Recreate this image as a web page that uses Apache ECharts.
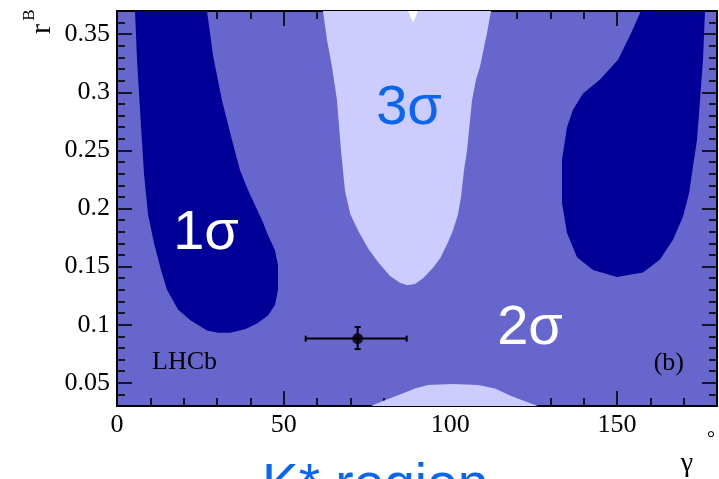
<!DOCTYPE html>
<html>
<head>
<meta charset="utf-8">
<script src="https://cdn.jsdelivr.net/npm/echarts/dist/echarts.min.js"></script>
<style>
  html, body { margin: 0; padding: 0; background: #ffffff; }
  #chart { width: 719px; height: 479px; }
</style>
</head>
<body>
<div id="chart"></div>
<script>
// Axis ranges and tick values
const gammaRange = [0, 180];
const rbRange = [0.03, 0.37];
const gammaMajorTicks = [0, 50, 100, 150];
const gammaMinorTicks = [10, 20, 30, 40, 60, 70, 80, 90, 110, 120, 130, 140, 160, 170];
const rbMajorTicks = [0.05, 0.1, 0.15, 0.2, 0.25, 0.3, 0.35];
const rbMinorTicks = [0.04, 0.06, 0.07, 0.08, 0.09, 0.11, 0.12, 0.13, 0.14, 0.16, 0.17, 0.18, 0.19,
  0.21, 0.22, 0.23, 0.24, 0.26, 0.27, 0.28, 0.29, 0.31, 0.32, 0.33, 0.34, 0.36];

// Confidence-region contours in (gamma [deg], r_B)
const oneSigmaLeft = [
  [5.4, 0.370], [6.0, 0.328], [6.9, 0.285], [8.1, 0.230], [9.3, 0.195], [11.1, 0.170],
  [13.2, 0.147], [15.0, 0.130], [18.3, 0.113], [21.9, 0.104], [27.0, 0.095], [30.3, 0.093],
  [33.9, 0.093], [38.4, 0.096], [42.0, 0.101], [45.3, 0.108], [47.4, 0.117], [48.3, 0.130],
  [48.3, 0.151], [47.4, 0.164], [45.3, 0.177], [43.8, 0.188], [41.4, 0.203], [39.3, 0.216],
  [36.9, 0.233], [34.5, 0.259], [31.5, 0.293], [28.8, 0.332], [27.0, 0.370]
];
const oneSigmaRight = [
  [157.2, 0.370], [153.9, 0.349], [150.3, 0.328], [144.9, 0.311], [139.8, 0.299], [136.8, 0.285],
  [135.0, 0.270], [133.5, 0.242], [133.5, 0.205], [135.0, 0.179], [138.0, 0.158], [142.8, 0.147],
  [150.0, 0.141], [157.8, 0.145], [162.9, 0.156], [166.8, 0.173], [169.8, 0.193], [171.6, 0.213],
  [173.1, 0.242], [174.0, 0.259], [174.9, 0.293], [175.8, 0.328], [176.4, 0.370]
];
const beyondTwoSigmaTop = [
  [61.8, 0.370], [63.0, 0.345], [64.5, 0.322], [66.0, 0.293], [67.2, 0.250], [68.4, 0.215],
  [70.0, 0.195], [72.5, 0.180], [75.5, 0.165], [78.3, 0.154], [81.9, 0.142], [84.9, 0.136],
  [87.0, 0.134], [89.4, 0.135], [91.8, 0.140], [94.8, 0.149], [96.9, 0.157], [99.0, 0.169],
  [100.8, 0.181], [102.3, 0.195], [103.2, 0.210], [104.1, 0.233], [105.0, 0.250], [106.5, 0.293],
  [107.7, 0.311], [108.9, 0.322], [111.0, 0.351], [112.2, 0.370]
];
const beyondTwoSigmaBottom = [
  [76.2, 0.030], [80.4, 0.035], [84.9, 0.040], [89.4, 0.045], [93.3, 0.048], [100.8, 0.049],
  [108.3, 0.048], [113.4, 0.045], [117.9, 0.039], [122.4, 0.034], [126.3, 0.030]
];
const beyondThreeSigma = [
  [87.3, 0.370], [88.2, 0.364], [88.8, 0.360], [89.4, 0.364], [90.3, 0.370]
];

// Best-fit point with asymmetric uncertainties
const bestGamma = [72.2];
const bestRb = [0.088];
const gammaErrLow = [15.6];
const gammaErrHigh = [14.7];
const rbErrLow = [0.009];
const rbErrHigh = [0.010];

const COLORS = {
  twoSigma: '#6666cc',
  oneSigma: '#000099',
  threeSigma: '#ccccff',
  outside: '#ffffff',
  label: '#0a66ee'
};

// One filled polygon per confidence region, mapped through the cartesian axes
function regionSeries(points, color, z) {
  return {
    type: 'custom',
    coordinateSystem: 'cartesian2d',
    xAxisIndex: 0,
    yAxisIndex: 0,
    data: points,
    z: z,
    silent: true,
    clip: true,
    renderItem: function (params, api) {
      if (params.dataIndex !== 0) return null;
      const pts = points.map(function (p) { return api.coord(p); });
      return { type: 'polygon', shape: { points: pts }, style: { fill: color, stroke: null } };
    }
  };
}

const serif = '"Liberation Serif", "Times New Roman", serif';
const sans = '"Liberation Sans", Arial, Helvetica, sans-serif';

function xAxisDef(position, ticks, len, withLabels) {
  return {
    type: 'value', position: position, min: gammaRange[0], max: gammaRange[1],
    axisLine: { show: true, onZero: false, lineStyle: { color: '#000', width: 2 } },
    axisTick: { show: true, inside: true, length: len, customValues: ticks, lineStyle: { color: '#000', width: 1.6 } },
    axisLabel: withLabels ? { show: true, customValues: ticks, color: '#000', fontFamily: serif, fontSize: 26, margin: 6 } : { show: false },
    splitLine: { show: false }
  };
}
function yAxisDef(position, ticks, len, withLabels) {
  return {
    type: 'value', position: position, min: rbRange[0], max: rbRange[1],
    axisLine: { show: true, onZero: false, lineStyle: { color: '#000', width: 2 } },
    axisTick: { show: true, inside: true, length: len, customValues: ticks, lineStyle: { color: '#000', width: 1.6 } },
    axisLabel: withLabels ? { show: true, customValues: ticks, color: '#000', fontFamily: serif, fontSize: 26, margin: 7 } : { show: false },
    splitLine: { show: false }
  };
}

const chart = echarts.init(document.getElementById('chart'), null, { renderer: 'canvas' });

chart.setOption({
  animation: false,
  backgroundColor: '#ffffff',
  grid: {
    left: 117, top: 11, width: 600, height: 395,
    containLabel: false, outerBoundsMode: 'none',
    show: true, backgroundColor: COLORS.twoSigma, borderWidth: 0
  },
  xAxis: [
    xAxisDef('bottom', gammaMajorTicks, 15, true),
    xAxisDef('bottom', gammaMinorTicks, 8, false),
    xAxisDef('top', gammaMajorTicks, 15, false),
    xAxisDef('top', gammaMinorTicks, 8, false)
  ],
  yAxis: [
    yAxisDef('left', rbMajorTicks, 15, true),
    yAxisDef('left', rbMinorTicks, 8, false),
    yAxisDef('right', rbMajorTicks, 15, false),
    yAxisDef('right', rbMinorTicks, 8, false)
  ],
  series: [
    regionSeries(oneSigmaLeft, COLORS.oneSigma, 2),
    regionSeries(oneSigmaRight, COLORS.oneSigma, 2),
    regionSeries(beyondTwoSigmaTop, COLORS.threeSigma, 2),
    regionSeries(beyondTwoSigmaBottom, COLORS.threeSigma, 2),
    regionSeries(beyondThreeSigma, COLORS.outside, 3),
    {
      type: 'custom',
      coordinateSystem: 'cartesian2d',
      z: 5,
      silent: true,
      data: bestGamma.map(function (g, i) {
        return [g, bestRb[i], g - gammaErrLow[i], g + gammaErrHigh[i], bestRb[i] - rbErrLow[i], bestRb[i] + rbErrHigh[i]];
      }),
      renderItem: function (params, api) {
        const c = api.coord([api.value(0), api.value(1)]);
        const xl = api.coord([api.value(2), api.value(1)]);
        const xh = api.coord([api.value(3), api.value(1)]);
        const yl = api.coord([api.value(0), api.value(4)]);
        const yh = api.coord([api.value(0), api.value(5)]);
        const st = { stroke: '#000', lineWidth: 2 };
        const cap = 3;
        return {
          type: 'group',
          children: [
            { type: 'line', shape: { x1: xl[0], y1: xl[1], x2: xh[0], y2: xh[1] }, style: st },
            { type: 'line', shape: { x1: yl[0], y1: yl[1], x2: yh[0], y2: yh[1] }, style: st },
            { type: 'line', shape: { x1: xl[0], y1: xl[1] - cap, x2: xl[0], y2: xl[1] + cap }, style: st },
            { type: 'line', shape: { x1: xh[0], y1: xh[1] - cap, x2: xh[0], y2: xh[1] + cap }, style: st },
            { type: 'line', shape: { x1: yl[0] - cap, y1: yl[1], x2: yl[0] + cap, y2: yl[1] }, style: st },
            { type: 'line', shape: { x1: yh[0] - cap, y1: yh[1], x2: yh[0] + cap, y2: yh[1] }, style: st }
          ]
        };
      }
    },
    {
      type: 'scatter',
      z: 6,
      silent: true,
      symbol: 'circle',
      symbolSize: 11,
      itemStyle: { color: '#000' },
      data: bestGamma.map(function (g, i) { return [g, bestRb[i]]; })
    }
  ],
  graphic: [
    { type: 'text', z: 100, x: 206, y: 234, style: { text: '1σ', fill: '#fff', font: '56px ' + sans, align: 'center', verticalAlign: 'middle' } },
    { type: 'text', z: 100, x: 530, y: 329, style: { text: '2σ', fill: '#fff', font: '56px ' + sans, align: 'center', verticalAlign: 'middle' } },
    { type: 'text', z: 100, x: 409, y: 109, style: { text: '3σ', fill: COLORS.label, font: '56px ' + sans, align: 'center', verticalAlign: 'middle' } },
    { type: 'text', z: 100, x: 152, y: 362, style: { text: 'LHCb', fill: '#000', font: '26px ' + serif, align: 'left', verticalAlign: 'middle' } },
    { type: 'text', z: 100, x: 684, y: 363, style: { text: '(b)', fill: '#000', font: '26px ' + serif, align: 'right', verticalAlign: 'middle' } },
    { type: 'text', z: 100, x: 42, y: 29, rotation: Math.PI / 2, style: { text: 'r', fill: '#000', font: '30px ' + serif, align: 'center', verticalAlign: 'middle' } },
    { type: 'text', z: 100, x: 30, y: 15, rotation: Math.PI / 2, style: { text: 'B', fill: '#000', font: '17px ' + serif, align: 'center', verticalAlign: 'middle' } },
    { type: 'text', z: 100, x: 687, y: 464, style: { text: 'γ', fill: '#000', font: '28px ' + serif, align: 'center', verticalAlign: 'middle' } },
    { type: 'text', z: 100, x: 711, y: 440, style: { text: '°', fill: '#000', font: '20px ' + serif, align: 'center', verticalAlign: 'middle' } },
    { type: 'text', z: 100, x: 262, y: 487, style: { text: 'K* region', fill: COLORS.label, font: '55px ' + sans, align: 'left', verticalAlign: 'middle' } }
  ]
});
</script>
</body>
</html>
